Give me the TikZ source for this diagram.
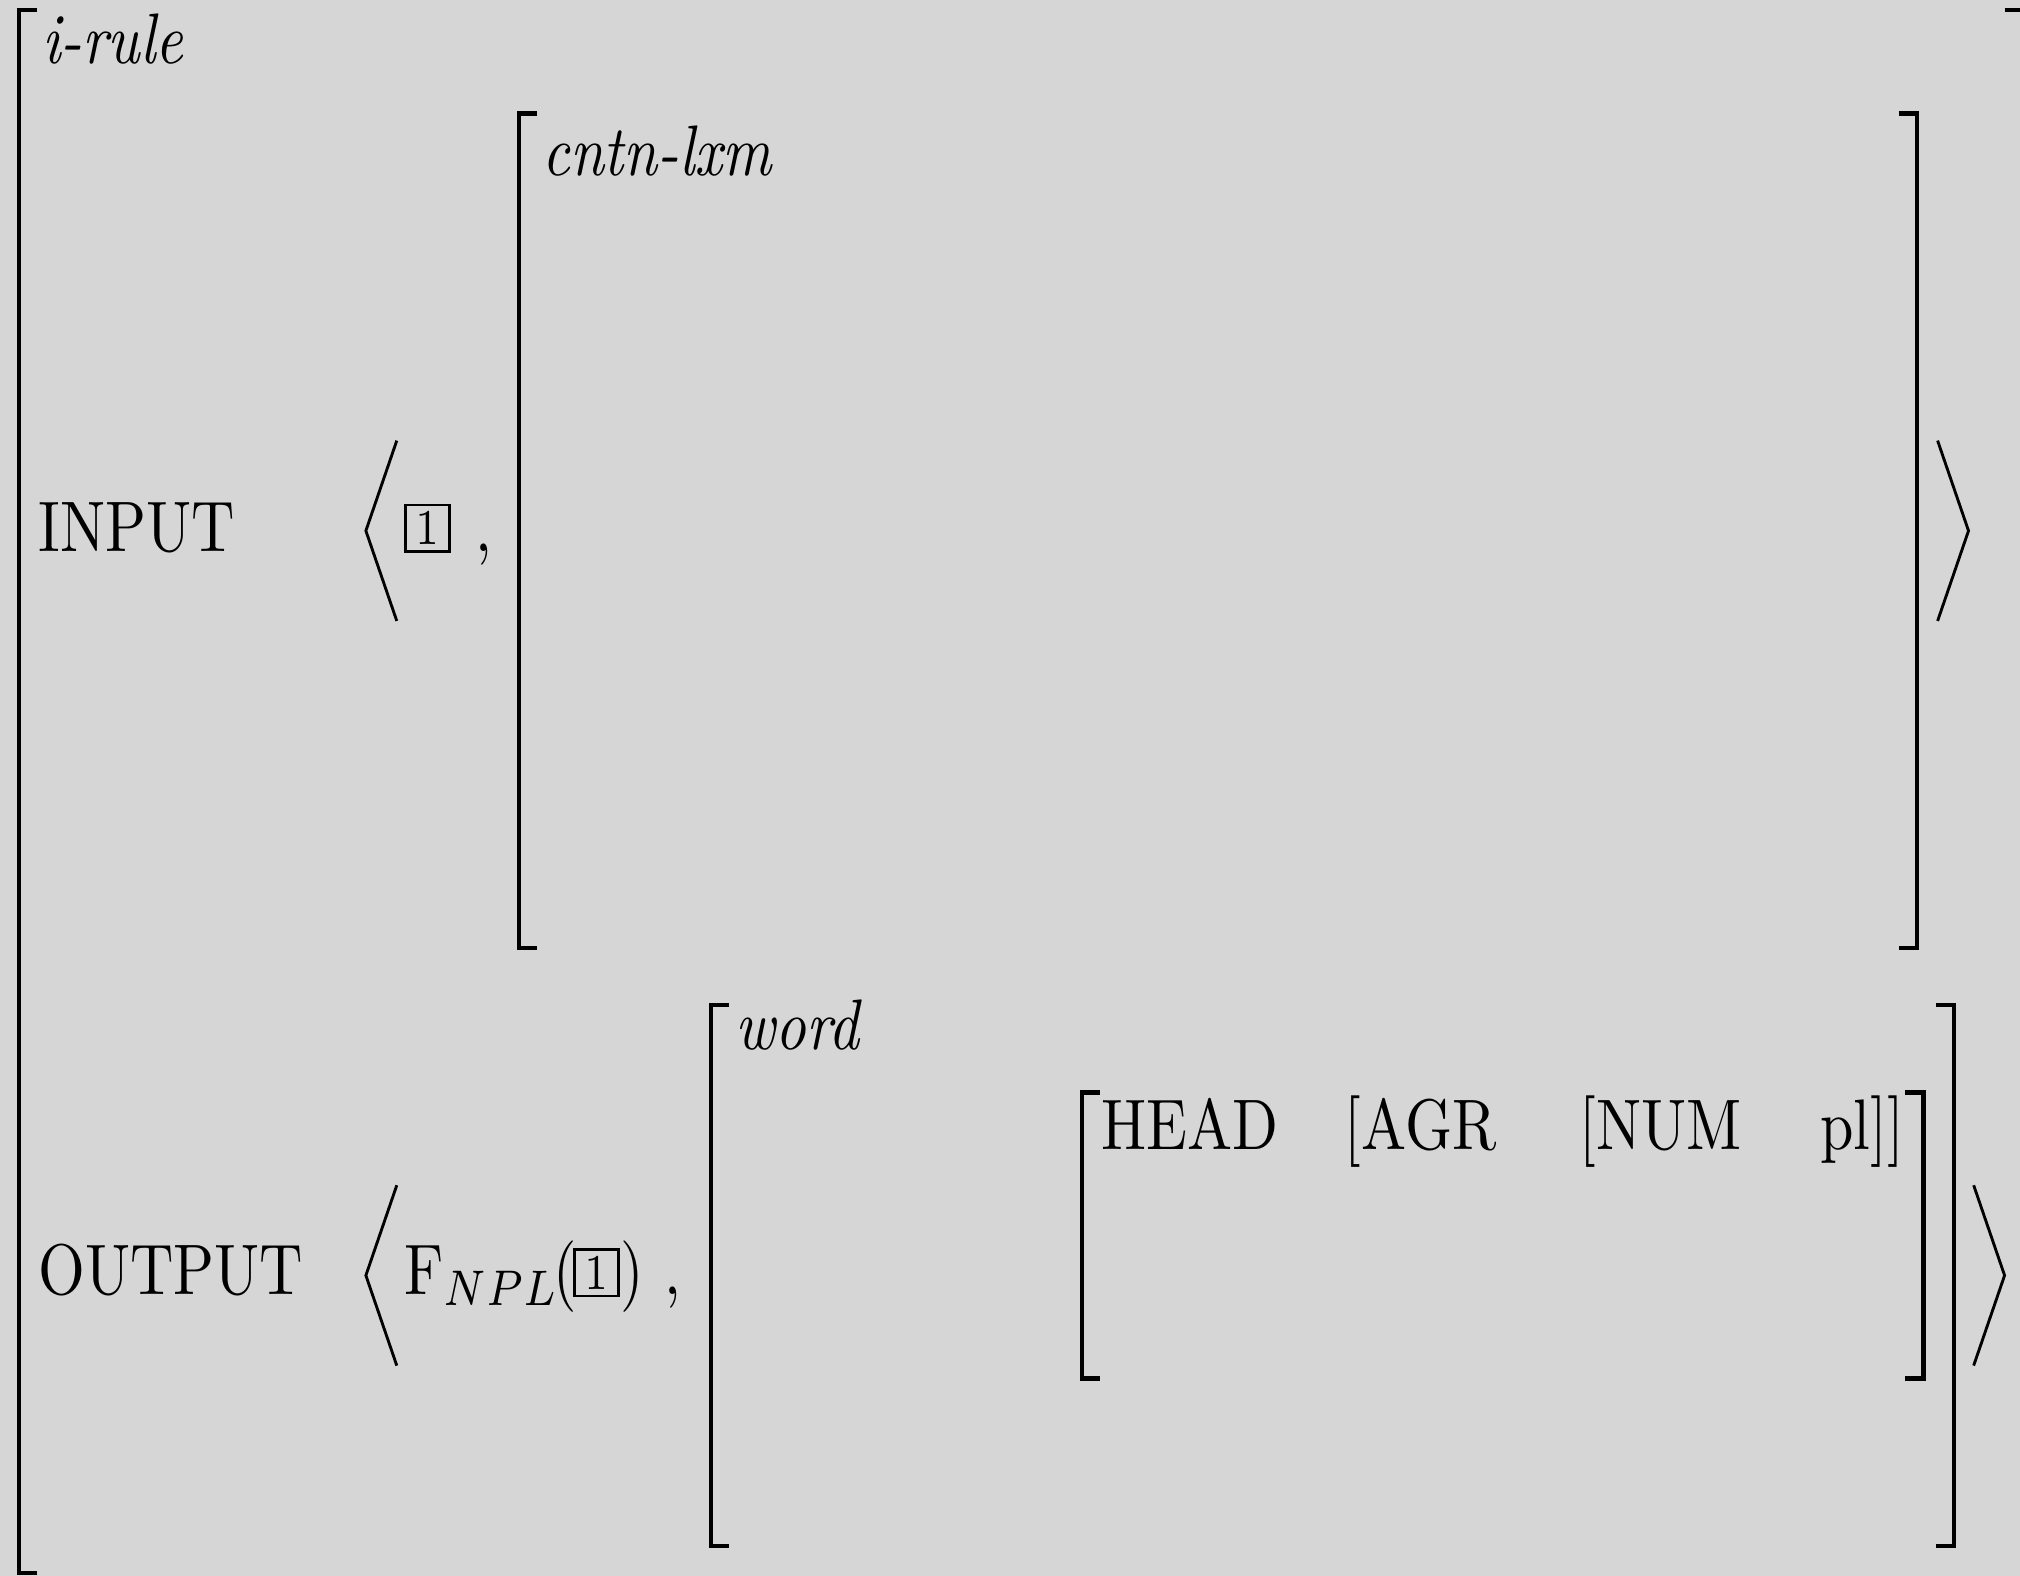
\documentclass[tikz,border=0pt]{standalone}
\usepackage{graphicx}
\definecolor{bg}{RGB}{214,214,214}
\newcommand{\cx}[1]{\scalebox{0.84}[1]{#1}}
\begin{document}
\begin{tikzpicture}[x=0.18pt,y=-0.18pt,
  lbl/.style={anchor=base west, inner sep=0pt, outer sep=0pt},
  brk/.style={line width=0.6pt, line cap=butt, line join=miter},
  ang/.style={line width=0.4pt, line join=miter},
  tagbox/.style={line width=0.4pt}]
\fill[bg] (0,0) rectangle (1568,1223);
\useasboundingbox (0,0) rectangle (1568,1223);
% outer avm brackets
\draw[brk] (29,8) -- (15,8) -- (15,1221) -- (29,1221);
\draw[brk] (1556,8) -- (1570,8) -- (1570,1221);
% cntn-lxm brackets
\draw[brk] (417,88) -- (403,88) -- (403,736) -- (417,736);
\draw[brk] (1474,88) -- (1488,88) -- (1488,736) -- (1474,736);
% word brackets
\draw[brk] (566,780) -- (552,780) -- (552,1200) -- (566,1200);
\draw[brk] (1503,780) -- (1517,780) -- (1517,1200) -- (1503,1200);
% inner HEAD brackets
\draw[brk] (854,848) -- (840,848) -- (840,1070) -- (854,1070);
\draw[brk] (1479,848) -- (1493,848) -- (1493,1070) -- (1479,1070);
% angle brackets
\draw[ang] (308,342) -- (284,412) -- (308,482);
\draw[ang] (1504,342) -- (1528,412) -- (1504,482);
\draw[ang] (308,920) -- (284,990) -- (308,1060);
\draw[ang] (1532,920) -- (1556,990) -- (1532,1060);
% texts
\node[lbl] (irule) at (33,49) {\cx{\textit{i-rule}}};
\node[lbl] (cntn) at (421,136) {\cx{\textit{cntn-lxm}}};
\node[lbl] (inp) at (30,428) {\cx{INPUT}};
\node[lbl] (outp) at (30,1005) {\cx{OUTPUT}};
\node[lbl] (word) at (571,815) {\cx{\textit{word}}};
\node[lbl] (head) at (855,892) {\cx{HEAD}};
\node[lbl] (agr) at (1044,892) {\cx{[AGR}};
\node[lbl] (num) at (1226,892) {\cx{[NUM}};
\node[lbl] (pl) at (1413,892) {\cx{pl]]}};
% tag 1 in input
\draw[tagbox] (315,392) rectangle (349,428);
\node[inner sep=0pt] (tagA) at (332,410) {\cx{\scriptsize 1}};
\node[lbl] (commaA) at (369,428) {\cx{,}};
% output function
\node[lbl] (fnpl) at (314,1005) {\cx{$\mathrm{F}_{NPL}$}};
\node[lbl] (lpar) at (430,1005) {\cx{(}};
\draw[tagbox] (446,970) rectangle (480,1006);
\node[inner sep=0pt] (tagB) at (463,988) {\cx{\scriptsize 1}};
\node[lbl] (rpar) at (482,1005) {\cx{)}};
\node[lbl] (commaB) at (516,1005) {\cx{,}};
\end{tikzpicture}
\end{document}
